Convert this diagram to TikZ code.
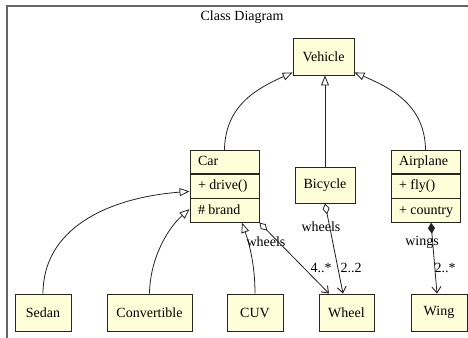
\documentclass[tikz,border=0pt]{standalone}
\usepackage{fontspec}
\setmainfont{Liberation Serif}
\usetikzlibrary{arrows.meta}
\definecolor{classfill}{HTML}{FEFED8}
\definecolor{edgecol}{HTML}{222222}
\definecolor{framecol}{HTML}{666666}
\begin{document}
\begin{tikzpicture}[x=1pt,y=-1pt,
  txt/.style={font=\fontsize{14}{16}\selectfont},
  box/.style={txt, draw=black!85, fill=classfill, line width=0.9pt, inner sep=0pt, minimum height=37pt},
  comp/.style={box, minimum height=23.33pt, minimum width=69pt, text width=59pt, align=flush left, inner xsep=5pt, anchor=north, text height=10pt, text depth=3pt},
  lbl/.style={txt, inner sep=0pt},
  edge/.style={draw=edgecol, line width=0.8pt},
  inherit/.style={edge, -{Triangle[open, length=10pt, width=8pt, fill=white]}},
  aggr/.style={edge, {Diamond[open, length=11pt, width=7pt, fill=white]}-{Straight Barb[length=6pt, width=9pt, line width=0.9pt]}},
  comps/.style={edge, {Diamond[length=11pt, width=7pt]}-{Straight Barb[length=6pt, width=9pt, line width=0.9pt]}}]
\useasboundingbox (0,0) rectangle (468,337);
\draw[framecol, line width=1.5pt] (7,345) -- (7,6) -- (475,6);
\node[txt, inner sep=0pt] (title) at (242,17) {Class Diagram};
% classes
\node[box, minimum width=61pt] (vehicle) at (323.5,56.5) {Vehicle};
\node[box, minimum width=60pt, minimum height=36pt] (bicycle) at (325,185) {Bicycle};
\node[comp] (carT) at (224.5,150) {\hspace*{3pt}Car};
\node[comp] (carO) at (carT.south) {\hspace*{3pt}+ drive()};
\node[comp] (carA) at (carO.south) {\hspace*{3pt}\# brand};
\node[comp] (airT) at (425.5,150) {\hspace*{3pt}Airplane};
\node[comp] (airO) at (airT.south) {\hspace*{3pt}+ fly()};
\node[comp] (airA) at (airO.south) {\hspace*{3pt}+ country};
\node[box, minimum width=56pt] (sedan) at (43,312.5) {Sedan};
\node[box, minimum width=85pt] (convertible) at (149.5,312.5) {Convertible};
\node[box, minimum width=56pt] (cuv) at (255,312.5) {CUV};
\node[box, minimum width=55pt] (wheel) at (346.5,312.5) {Wheel};
\node[box, minimum width=56pt] (wing) at (439,312.5) {Wing};
% inheritance
\draw[inherit] (carT.north) .. controls (225,105) and (258,88) .. ([yshift=3pt]vehicle.south west);
\draw[inherit] (bicycle.north) -- (bicycle.north |- vehicle.south);
\draw[inherit] (airT.north) .. controls (425,105) and (391,88) .. ([yshift=3pt]vehicle.south east);
\draw[inherit] (sedan.north) .. controls (43,230) and (105,198) .. ([yshift=-5pt]carO.west);
\draw[inherit] (convertible.north) .. controls (150,258) and (168,228) .. ([yshift=1.5pt]carA.west);
\draw[inherit] (cuv.north) .. controls (255,262) and (248,240) .. ([xshift=17.5pt]carA.south);
% associations
\draw[aggr] (carA.south east) -- ([xshift=-17.5pt]wheel.north);
\draw[aggr] (bicycle.south) -- ([xshift=-3.5pt]wheel.north);
\draw[comps] ([xshift=5.5pt]airA.south) -- ([xshift=-2pt]wing.north);
% labels
\node[lbl] (l1) at (266,242) {wheels};
\node[lbl] (l2) at (321,268) {4..*};
\node[lbl] (l3) at (321,227) {wheels};
\node[lbl] (l4) at (351,268) {2..2};
\node[lbl] (l5) at (422,242) {wings};
\node[lbl] (l6) at (445,268) {2..*};
\end{tikzpicture}
\end{document}
